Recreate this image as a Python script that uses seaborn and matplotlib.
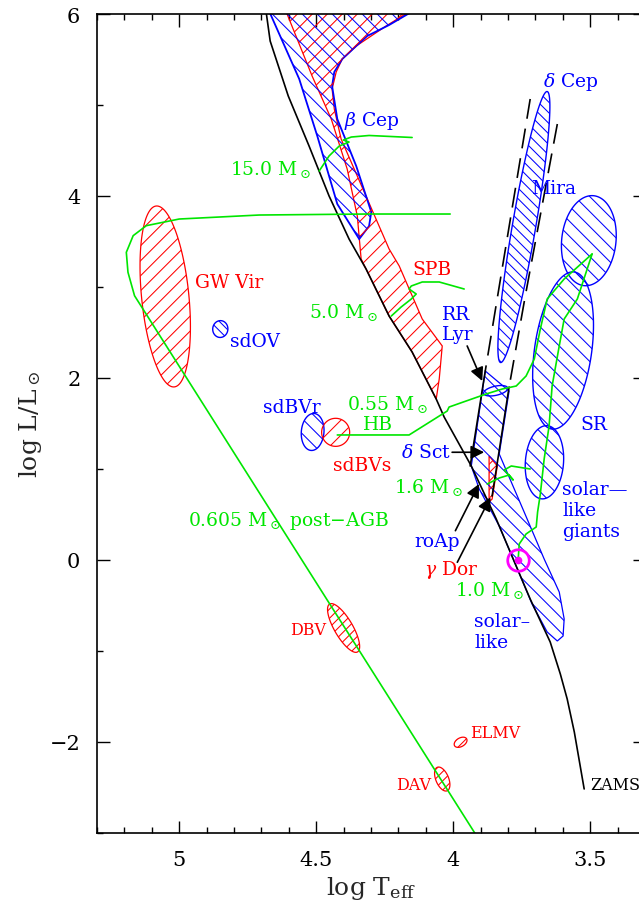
import numpy as np
import pandas as pd
import matplotlib
matplotlib.use("Agg")
import matplotlib.pyplot as plt
import seaborn as sns
from matplotlib.patches import Polygon
from matplotlib.collections import LineCollection
from matplotlib.ticker import MultipleLocator, FuncFormatter

# ---------------- data: (log Teff, log L/Lsun) ----------------
zams_logT = [4.684, 4.668, 4.602, 4.526, 4.453, 4.380, 4.318, 4.234, 4.150,
             4.062, 4.033, 3.934, 3.843, 3.719, 3.646, 3.609, 3.584, 3.558, 3.522]
zams_logL = [6.05, 5.703, 5.099, 4.549, 4.000, 3.527, 3.198, 2.681, 2.286,
             1.769, 1.571, 1.033, 0.451, -0.429, -0.901, -1.253, -1.527, -1.890, -2.516]

# evolutionary tracks
m15_logT = [4.489, 4.453, 4.416, 4.380, 4.401, 4.372, 4.307, 4.150]
m15_logL = [4.275, 4.440, 4.549, 4.593, 4.615, 4.648, 4.665, 4.643]
m5_logT = [4.226, 4.190, 4.153, 4.135, 4.161, 4.153, 4.113, 4.051, 3.960]
m5_logL = [2.681, 2.780, 2.868, 2.923, 2.978, 3.011, 3.055, 3.055, 2.978]
m16_logT = [3.876, 3.832, 3.796, 3.781, 3.814, 3.788, 3.719]
m16_logL = [0.835, 0.901, 0.934, 0.879, 0.989, 1.033, 1.000]
m10_logT = [3.763, 3.759, 3.734, 3.697, 3.692, 3.682, 3.668, 3.650, 3.639,
            3.613, 3.595, 3.547, 3.493]
m10_logL = [0.000, 0.176, 0.286, 0.363, 0.527, 0.725, 1.110, 1.473, 1.912,
            2.352, 2.648, 2.868, 3.363]
hb_logT = [4.423, 4.161, 4.022, 4.015, 3.953, 3.880, 3.821, 3.770, 3.734,
           3.704, 3.682, 3.657, 3.595, 3.493]
hb_logL = [1.374, 1.374, 1.637, 1.681, 1.747, 1.824, 1.879, 1.912, 2.022,
           2.209, 2.538, 2.868, 3.088, 3.363]
pagb_logT = [4.011, 4.310, 4.708, 5.000, 5.120, 5.168, 5.193, 5.187, 5.163, 3.919]
pagb_logL = [3.802, 3.802, 3.791, 3.747, 3.674, 3.564, 3.381, 3.162, 2.904, -3.011]

# classical instability strip edges
blue_edge_logT = [3.719, 3.883, 3.938]
blue_edge_logL = [5.066, 2.077, 1.033]
red_edge_logT = [3.620, 3.737, 3.796, 3.858]
red_edge_logL = [4.791, 2.901, 1.901, 0.703]

# polygonal instability regions
bcep_logT = [4.679, 4.562, 4.496, 4.423, 4.343, 4.307, 4.299, 4.354, 4.423,
             4.442, 4.434, 4.405, 4.354, 4.314, 4.234, 4.120]
bcep_logL = [6.08, 5.286, 4.659, 3.912, 3.527, 3.670, 3.824, 4.330, 4.846,
             5.209, 5.363, 5.505, 5.648, 5.758, 5.879, 6.08]
spb_logT = [4.617, 4.515, 4.445, 4.387, 4.350, 4.336, 4.318, 4.234, 4.150, 4.062,
            4.051, 4.040, 4.113, 4.197, 4.234, 4.409, 4.434, 4.442, 4.427, 4.405,
            4.354, 4.245, 4.131]
spb_logL = [6.08, 5.319, 4.846, 4.297, 3.780, 3.308, 3.198, 2.681, 2.286, 1.769,
            1.989, 2.352, 2.648, 3.231, 3.418, 4.626, 4.956, 5.176, 5.363, 5.505,
            5.648, 5.868, 6.08]
dsct_logT = [3.883, 3.796, 3.832, 3.741, 3.668, 3.613, 3.595, 3.599, 3.620,
             3.657, 3.712, 3.832, 3.905, 3.934]
dsct_logL = [2.077, 1.857, 1.165, 0.527, 0.011, -0.352, -0.648, -0.835, -0.890,
             -0.791, -0.484, 0.374, 0.780, 1.033]
gdor_logT = [3.869, 3.839, 3.858, 3.869]
gdor_logL = [1.143, 1.033, 0.670, 0.637]

# elliptical regions: centre, end of major axis, axis ratio
ell_names = ["GW Vir", "sdOV", "sdBVr", "sdBVs", "DBV", "DAV", "ELMV",
             "dCep", "Mira", "SR", "giants", "RRLyr"]
ell_cT = [5.051, 4.850, 4.513, 4.429, 4.400, 4.040, 3.973, 3.742, 3.505, 3.599, 3.667, 3.845]
ell_cL = [2.896, 2.538, 1.407, 1.403, -0.747, -2.407, -2.003, 3.659, 3.509, 2.302, 1.074, 1.860]
ell_tT = [5.084, 4.847, 4.507, 4.429, 4.451, 4.058, 3.951, 3.657, 3.487, 3.558, 3.657, 3.801]
ell_tL = [3.890, 2.630, 1.610, 1.557, -0.484, -2.278, -1.965, 5.148, 4.003, 3.165, 1.476, 1.890]
ell_ratio = [0.26, 0.90, 0.61, 1.00, 0.33, 0.50, 0.62, 0.085, 0.60, 0.36, 0.52, 0.37]

sun_logT, sun_logL = 3.762, 0.0

# labels: text, left x, baseline y
labels = [
    (r"15.0 M$_\odot$", 4.816, 4.242, "g"),
    (r"5.0 M$_\odot$", 4.526, 2.670, "g"),
    (r"$\beta$ Cep", 4.398, 4.780, "b"),
    (r"$\delta$ Cep", 3.674, 5.209, "b"),
    ("Mira", 3.716, 4.033, "b"),
    ("GW Vir", 4.944, 3.000, "r"),
    ("SPB", 4.149, 3.143, "r"),
    ("sdOV", 4.816, 2.355, "b"),
    ("sdBVr", 4.695, 1.626, "b"),
    (r"0.55 M$_\odot$", 4.386, 1.659, "g"),
    ("HB", 4.330, 1.440, "g"),
    ("sdBVs", 4.440, 0.992, "r"),
    ("RR", 4.040, 2.648, "b"),
    ("Lyr", 4.040, 2.429, "b"),
    (r"$\delta$ Sct", 4.192, 1.129, "b"),
    (r"1.6 M$_\odot$", 4.216, 0.744, "g"),
    ("roAp", 4.143, 0.157, "b"),
    (r"$\gamma$ Dor", 4.107, -0.154, "r"),
    (r"1.0 M$_\odot$", 3.992, -0.385, "g"),
    ("solar\u2014", 3.602, 0.725, "b"),
    ("like", 3.602, 0.495, "b"),
    ("giants", 3.602, 0.260, "b"),
    ("solar\u2013", 3.924, -0.725, "b"),
    ("like", 3.924, -0.959, "b"),
    ("SR", 3.536, 1.440, "b"),
    (r"0.605 M$_\odot$ post$-$AGB", 4.968, 0.385, "g"),
]
small_labels = [
    ("DBV", 4.597, -0.813, "r"),
    ("ELMV", 3.937, -1.945, "r"),
    ("DAV", 4.207, -2.516, "r"),
    ("ZAMS", 3.500, -2.516, "k"),
]
# arrows: tail -> head
arrow_tail_T = [3.949, 4.004, 3.992, 3.985]
arrow_tail_L = [2.352, 1.184, 0.322, -0.025]
arrow_head_T = [3.894, 3.887, 3.906, 3.864]
arrow_head_L = [1.967, 1.184, 0.835, 0.689]

# ---------------- styling ----------------
RED, BLUE, GREEN, MAG = "#ff0000", "#0000ff", "#00e600", "#ff00ff"
COL = {"r": RED, "b": BLUE, "g": GREEN, "k": "black"}

sns.set_theme(style="ticks")
plt.rcParams.update({
    "font.family": ["DejaVu Serif"],
    "mathtext.fontset": "dejavuserif",
    "axes.linewidth": 1.2,
    "axes.edgecolor": "black",
    "xtick.color": "black",
    "ytick.color": "black",
})

fig = plt.figure(figsize=(6.39, 9.12), dpi=100)
ax = fig.add_axes([97 / 639, 78 / 912, 548 / 639, 819 / 912])
ax.set_xlim(5.3, 3.3)
ax.set_ylim(-3, 6)


def ellipse_vertices(c, tip, ratio, n=160):
    to_px = ax.transData.transform
    cp = to_px(c)
    a = to_px(tip) - cp
    b = ratio * np.array([-a[1], a[0]])
    t = np.linspace(0, 2 * np.pi, n)
    pts = cp + np.outer(np.cos(t), a) + np.outer(np.sin(t), b)
    return ax.transData.inverted().transform(pts)


def hatch(patch, verts, direction, color, spacing=10.6, lw=0.75):
    disp = ax.transData.transform(verts)
    x0, y0 = disp.min(0) - 3
    x1, y1 = disp.max(0) + 3
    step = spacing * np.sqrt(2)
    segs = []
    if direction == "/":
        k = disp[:, 0] - disp[:, 1]
        for c in np.arange(np.floor(k.min() / step) * step, k.max() + step, step):
            segs.append([(x0, x0 - c), (x1, x1 - c)])
    else:
        k = disp[:, 0] + disp[:, 1]
        for c in np.arange(np.floor(k.min() / step) * step, k.max() + step, step):
            segs.append([(x0, c - x0), (x1, c - x1)])
    inv = ax.transData.inverted()
    segs = [inv.transform(np.array(s)) for s in segs]
    lc = LineCollection(segs, colors=color, linewidths=lw)
    ax.add_collection(lc, autolim=False)
    lc.set_clip_path(patch)


def region(verts, color, direction, lw=1.0, spacing=10.6):
    verts = np.asarray(verts)
    patch = Polygon(verts, closed=True, fill=False, edgecolor=color, lw=lw)
    ax.add_patch(patch)
    if direction:
        hatch(patch, verts, direction, color, spacing=spacing)


# polygon regions
region(np.column_stack([spb_logT, spb_logL]), RED, "/", lw=0.9)
region(np.column_stack([bcep_logT, bcep_logL]), BLUE, "\\", lw=1.3)
region(np.column_stack([dsct_logT, dsct_logL]), BLUE, "\\", lw=0.9)
region(np.column_stack([gdor_logT, gdor_logL]), RED, "/", lw=0.9, spacing=6)

# elliptical regions
ell_style = {
    "GW Vir": (RED, "/"), "sdOV": (BLUE, "\\"), "sdBVr": (BLUE, "\\"),
    "sdBVs": (RED, "/"), "DBV": (RED, "/"), "DAV": (RED, "/"), "ELMV": (RED, "/"),
    "dCep": (BLUE, "\\"), "Mira": (BLUE, "\\"), "SR": (BLUE, "\\"),
    "giants": (BLUE, "\\"), "RRLyr": (BLUE, None),
}
for name, cT, cL, tT, tL, q in zip(ell_names, ell_cT, ell_cL, ell_tT, ell_tL, ell_ratio):
    col, d = ell_style[name]
    v = ellipse_vertices((cT, cL), (tT, tL), q)
    sp = 7.5 if name == "dCep" else (6.5 if name in ("DBV", "DAV", "ELMV", "sdOV") else 10.6)
    region(v, col, d, lw=1.0 if col == BLUE else 0.9, spacing=sp)

# instability strip edges (dashed where extrapolated)
ax.plot(blue_edge_logT[:2], blue_edge_logL[:2], color="black", lw=1.2, dashes=(12, 6))
ax.plot(blue_edge_logT[1:], blue_edge_logL[1:], color="black", lw=1.2)
ax.plot(red_edge_logT[:3], red_edge_logL[:3], color="black", lw=1.2, dashes=(12, 6))
ax.plot(red_edge_logT[2:], red_edge_logL[2:], color="black", lw=1.2)

# ZAMS and evolutionary tracks
sns.lineplot(x=zams_logT, y=zams_logL, sort=False, estimator=None,
             color="black", lw=1.2, ax=ax)
for tT, tL in [(m15_logT, m15_logL), (m5_logT, m5_logL), (m16_logT, m16_logL),
               (m10_logT, m10_logL), (hb_logT, hb_logL), (pagb_logT, pagb_logL)]:
    sns.lineplot(x=tT, y=tL, sort=False, estimator=None, color=GREEN, lw=1.2, ax=ax)

# the Sun
ax.plot([sun_logT], [sun_logL], marker="o", ms=15.5, mfc="none", mec=MAG, mew=2.0)
ax.plot([sun_logT], [sun_logL], marker="o", ms=4.5, mfc=MAG, mec=MAG)

# labels
for txt, x, y, c in labels:
    ax.text(x, y, txt, color=COL[c], fontsize=13.5, ha="left", va="baseline")
for txt, x, y, c in small_labels:
    ax.text(x, y, txt, color=COL[c], fontsize=11.5, ha="left", va="baseline")

for x0, y0, x1, y1 in zip(arrow_tail_T, arrow_tail_L, arrow_head_T, arrow_head_L):
    ax.annotate("", xy=(x1, y1), xytext=(x0, y0),
                arrowprops=dict(arrowstyle="-|>", color="black", lw=1.2,
                                mutation_scale=20, shrinkA=0, shrinkB=0))

# axes
ax.set_xlim(5.3, 3.3)
ax.set_ylim(-3, 6)
ax.xaxis.set_major_locator(MultipleLocator(0.5))
ax.xaxis.set_minor_locator(MultipleLocator(0.1))
ax.yaxis.set_major_locator(MultipleLocator(2))
ax.yaxis.set_minor_locator(MultipleLocator(1))
ax.xaxis.set_major_formatter(FuncFormatter(lambda v, p: f"{v:g}"))
ax.yaxis.set_major_formatter(FuncFormatter(lambda v, p: f"{v:g}".replace("-", "\u2212")))
ax.tick_params(which="both", direction="in", top=True, right=True, labelsize=15)
ax.tick_params(which="major", length=9, width=1.0, pad=12)
ax.tick_params(which="minor", length=4.5, width=1.0)
ax.set_xlabel(r"log T$_{\rm eff}$", fontsize=18, labelpad=4)
ax.set_ylabel(r"log L/L$_\odot$", fontsize=18, labelpad=4)

fig.savefig("out.png", dpi=100)
